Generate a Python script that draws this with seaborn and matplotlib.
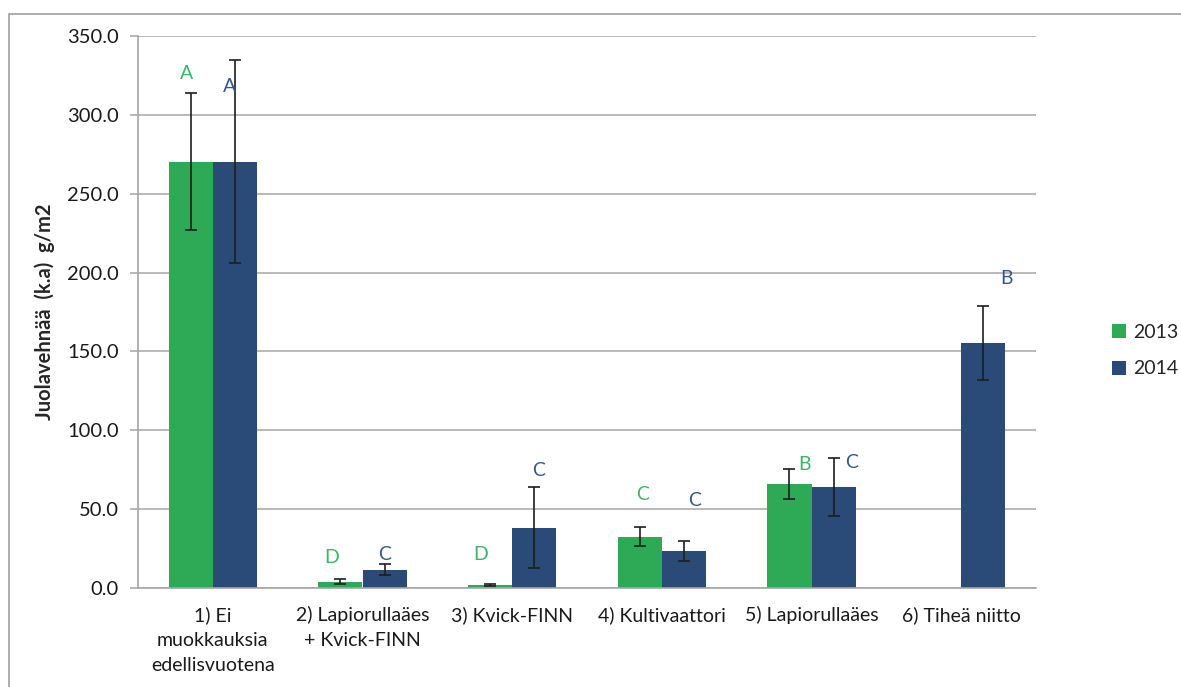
import numpy as np
import pandas as pd
import seaborn as sns
import matplotlib
matplotlib.use("Agg")
import matplotlib.pyplot as plt
from matplotlib.patches import Rectangle

# Treatments (x categories)
categories = [
    "1) Ei\nmuokkauksia\nedellisvuotena",
    "2) Lapiorullaäes\n+ Kvick-FINN",
    "3) Kvick-FINN",
    "4) Kultivaattori",
    "5) Lapiorullaäes",
    "6) Tiheä niitto",
]
years = ["2013", "2014"]

# Mean dry-matter biomass (g/m2) per year; no 2013 value for treatment 6
values_2013 = [270.3, 4.3, 2.1, 32.7, 65.9, np.nan]
values_2014 = [270.3, 11.7, 38.4, 23.8, 64.3, 155.5]

# Error bar half-widths
err_2013 = [43.6, 1.8, 0.5, 6.2, 9.5, np.nan]
err_2014 = [64.0, 3.5, 25.7, 6.3, 18.2, 23.5]

# Significance letters and the heights where they are written
letters_2013 = ["A", "D", "D", "C", "B", ""]
letters_2014 = ["A", "C", "C", "C", "C", "B"]
letter_y_2013 = [326.0, 19.2, 21.7, 59.7, 78.1, np.nan]
letter_y_2014 = [317.6, 21.1, 74.4, 55.3, 79.4, 196.5]

y_ticks = [0, 50, 100, 150, 200, 250, 300, 350]

GREEN = "#2EAA57"
BLUE = "#2A4A78"
GREEN_TXT = "#3CB567"
BLUE_TXT = "#35588A"
GRID = "#A6A6A6"
FS = 14

df = pd.DataFrame({
    "Käsittely": categories * 2,
    "Vuosi": [years[0]] * len(categories) + [years[1]] * len(categories),
    "Arvo": values_2013 + values_2014,
}).dropna()

sns.set_theme(style="white")
plt.rcParams["font.family"] = ["Lato", "DejaVu Sans"]

fig = plt.figure(figsize=(11.81, 6.87), dpi=100)
ax = fig.add_axes([138 / 1181, 1 - 588.3 / 687, (1036 - 138) / 1181, (588.3 - 35.7) / 687])

group_width = 0.59
sns.barplot(data=df, x="Käsittely", y="Arvo", hue="Vuosi", order=categories,
            hue_order=years, palette=[GREEN, BLUE], width=group_width,
            saturation=1, errorbar=None, ax=ax, zorder=2, linewidth=0)

half = group_width / 4
x_idx = np.arange(len(categories))
for offs, vals, errs in [(-half, values_2013, err_2013), (half, values_2014, err_2014)]:
    ax.errorbar(x_idx + offs, vals, yerr=errs, fmt="none", ecolor="#1E1E1E",
                elinewidth=1.2, capsize=4.5, capthick=1.2, zorder=3)

# Letter placements (small horizontal nudges in points)
nudge_2013 = [-3, -6, -7, 2, 11, 0]
nudge_2014 = [-4, 0, 3, 8, 13, 17]
for i in range(len(categories)):
    if letters_2013[i]:
        ax.annotate(letters_2013[i], (i - half, letter_y_2013[i]),
                    xytext=(nudge_2013[i], 0), textcoords="offset points",
                    ha="center", va="center", color=GREEN_TXT, fontsize=FS, zorder=4)
    if letters_2014[i]:
        ax.annotate(letters_2014[i], (i + half, letter_y_2014[i]),
                    xytext=(nudge_2014[i], 0), textcoords="offset points",
                    ha="center", va="center", color=BLUE_TXT, fontsize=FS, zorder=4)

ax.set_ylim(0, 350)
ax.set_xlim(-0.5, len(categories) - 0.5)
ax.set_yticks(y_ticks)
ax.set_yticklabels([f"{v:.1f}" for v in y_ticks], fontsize=FS + 0.5, color="#1A1A1A")
ax.yaxis.grid(True, color=GRID, linewidth=1.1, zorder=0)
ax.set_axisbelow(True)

# category labels centered between boundary ticks
ax.set_xticks(x_idx)
ax.set_xticklabels(categories, fontsize=FS, color="#1A1A1A", linespacing=1.55, va="top")
ax.tick_params(axis="x", length=0, pad=13)
ax.set_xticks(np.arange(len(categories) + 1) - 0.5, minor=True)
ax.tick_params(axis="x", which="minor", length=6, color=GRID, width=1.1, direction="out")
ax.tick_params(axis="y", length=6, color=GRID, width=1.1, direction="out", pad=8, left=True)

for side in ["top", "right"]:
    ax.spines[side].set_visible(False)
for side in ["left", "bottom"]:
    ax.spines[side].set_color(GRID)
    ax.spines[side].set_linewidth(1.2)

ax.set_xlabel("")
ax.set_ylabel("Juolavehnää  (k.a)  g/m2", fontsize=14.5, fontweight="bold")
ax.yaxis.set_label_coords(-0.092, 0.5)

leg = ax.legend(loc="center left", bbox_to_anchor=(1.065, 0.43), frameon=False,
                fontsize=FS, handlelength=0.75, handleheight=0.75, handletextpad=0.35,
                labelspacing=1.0)

# outer chart frame
fig.add_artist(Rectangle((9 / 1181, -0.2), 2.0, 1.2 - 14 / 687, transform=fig.transFigure,
                         fill=False, edgecolor="#A0A0A0", linewidth=1.2))

fig.savefig("out.png", dpi=100)
